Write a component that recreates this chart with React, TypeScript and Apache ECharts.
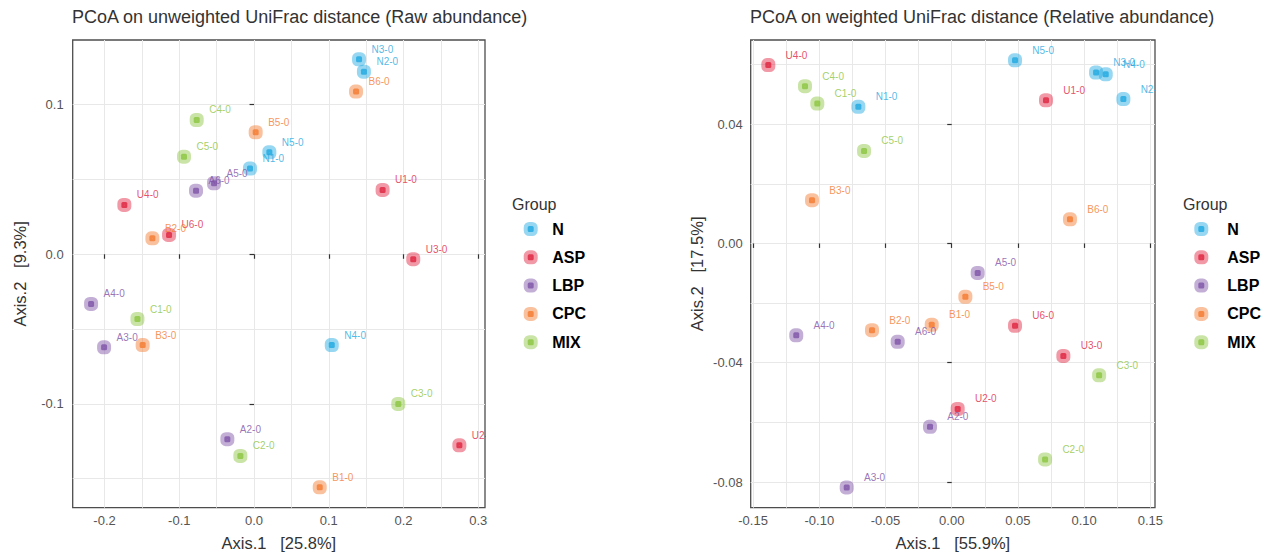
import React, { useEffect, useRef } from 'react';
import * as echarts from 'echarts';

const FONT = '"Liberation Sans", Arial, sans-serif';

const GROUPS = ['N', 'ASP', 'LBP', 'CPC', 'MIX'];
const GROUP_COLORS = ['#1FA8E0', '#E0233F', '#7E52A6', '#F47A2E', '#8BC53F'];
const GROUP_HALOS = [
  'rgba(31,168,224,0.58)',
  'rgba(224,35,63,0.58)',
  'rgba(126,82,166,0.58)',
  'rgba(244,122,46,0.58)',
  'rgba(139,197,63,0.58)',
];

// Left chart: unweighted UniFrac (Raw abundance) — [sample, Axis.1, Axis.2]
const unweightedN = [
  ['N1-0', -0.0054, 0.0573],
  ['N2-0', 0.147, 0.1221],
  ['N3-0', 0.1405, 0.1304],
  ['N4-0', 0.104, -0.0607],
  ['N5-0', 0.0205, 0.0682],
];
const unweightedASP = [
  ['U1-0', 0.172, 0.043],
  ['U2-0', 0.2747, -0.1278],
  ['U3-0', 0.213, -0.0033],
  ['U4-0', -0.1735, 0.033],
  ['U6-0', -0.1137, 0.0129],
];
const unweightedLBP = [
  ['A2-0', -0.0357, -0.1237],
  ['A3-0', -0.2006, -0.0622],
  ['A4-0', -0.218, -0.0332],
  ['A5-0', -0.0535, 0.0475],
  ['A6-0', -0.0776, 0.0425],
];
const unweightedCPC = [
  ['B1-0', 0.0879, -0.1559],
  ['B2-0', -0.136, 0.0107],
  ['B3-0', -0.149, -0.0607],
  ['B5-0', 0.0022, 0.0816],
  ['B6-0', 0.1365, 0.1088],
];
const unweightedMIX = [
  ['C1-0', -0.156, -0.0433],
  ['C2-0', -0.0183, -0.1349],
  ['C3-0', 0.193, -0.1001],
  ['C4-0', -0.0767, 0.0898],
  ['C5-0', -0.0937, 0.0653],
];

// Right chart: weighted UniFrac (Relative abundance)
const weightedN = [
  ['N1-0', -0.0705, 0.0458],
  ['N2-0', 0.1296, 0.0484],
  ['N3-0', 0.109, 0.0573],
  ['N4-0', 0.1163, 0.0567],
  ['N5-0', 0.0478, 0.0614],
];
const weightedASP = [
  ['U1-0', 0.0712, 0.048],
  ['U2-0', 0.0045, -0.0555],
  ['U3-0', 0.0843, -0.0377],
  ['U4-0', -0.1385, 0.0598],
  ['U6-0', 0.0478, -0.0276],
];
const weightedLBP = [
  ['A2-0', -0.0164, -0.0615],
  ['A3-0', -0.0793, -0.0818],
  ['A4-0', -0.1174, -0.0308],
  ['A5-0', 0.0196, -0.0099],
  ['A6-0', -0.0408, -0.033],
];
const weightedCPC = [
  ['B1-0', -0.0151, -0.0273],
  ['B2-0', -0.0602, -0.0291],
  ['B3-0', -0.1055, 0.0145],
  ['B5-0', 0.0103, -0.0179],
  ['B6-0', 0.0893, 0.0081],
];
const weightedMIX = [
  ['C1-0', -0.1015, 0.0469],
  ['C2-0', 0.0705, -0.0724],
  ['C3-0', 0.1113, -0.0442],
  ['C4-0', -0.1108, 0.0527],
  ['C5-0', -0.0662, 0.031],
];

// Tick labels and grid lines
const LEFT_X_TICKS = [-0.2, -0.1, 0, 0.1, 0.2, 0.3];
const LEFT_Y_TICKS = [-0.1, 0, 0.1];
const LEFT_X_GRID = [-0.2, -0.15, -0.1, -0.05, 0, 0.05, 0.1, 0.15, 0.2, 0.25, 0.3];
const LEFT_Y_GRID = [-0.15, -0.1, -0.05, 0, 0.05, 0.1];
const RIGHT_X_TICKS = [-0.15, -0.1, -0.05, 0, 0.05, 0.1, 0.15];
const RIGHT_Y_TICKS = [-0.08, -0.04, 0, 0.04];
const RIGHT_X_GRID = [-0.15, -0.125, -0.1, -0.075, -0.05, -0.025, 0, 0.025, 0.05, 0.075, 0.1, 0.125, 0.15];
const RIGHT_Y_GRID = [-0.08, -0.06, -0.04, -0.02, 0, 0.02, 0.04, 0.06];

const LEFT_RANGE_X = [-0.2426, 0.309];
const LEFT_RANGE_Y = [-0.1695, 0.1433];
const RIGHT_RANGE_X = [-0.1518, 0.1535];
const RIGHT_RANGE_Y = [-0.0886, 0.0682];

const TITLES = [
  'PCoA on unweighted UniFrac distance (Raw abundance)',
  'PCoA on weighted UniFrac distance (Relative abundance)',
];
const X_NAMES = ['Axis.1   [25.8%]', 'Axis.1   [55.9%]'];
const Y_NAMES = ['Axis.2   [9.3%]', 'Axis.2   [17.5%]'];

const LEFT_DATA = [unweightedN, unweightedASP, unweightedLBP, unweightedCPC, unweightedMIX];
const RIGHT_DATA = [weightedN, weightedASP, weightedLBP, weightedCPC, weightedMIX];

const fmt = (d: number) => (v: number) => {
  const r = Math.abs(v) < 1e-9 ? 0 : v;
  return r.toFixed(d);
};

function gridAxis(gridIndex: number, range: number[], gridVals: number[]) {
  return {
    type: 'value',
    gridIndex,
    min: range[0],
    max: range[1],
    axisLine: { show: false },
    axisTick: { show: false, customValues: gridVals },
    axisLabel: { show: false },
    splitLine: { show: true, lineStyle: { color: '#E8E8E8', width: 1 } },
  };
}

function labelAxis(
  gridIndex: number,
  range: number[],
  ticks: number[],
  decimals: number,
  name: string,
  nameGap: number,
  margin: number,
  isY: boolean
) {
  return {
    type: 'value',
    gridIndex,
    min: range[0],
    max: range[1],
    position: isY ? 'left' : 'bottom',
    name,
    nameLocation: 'middle',
    nameGap,
    nameTextStyle: { fontSize: 16.5, color: '#333333', fontFamily: FONT },
    axisLine: { show: false },
    axisTick: {
      show: true,
      customValues: ticks,
      length: 4.5,
      lineStyle: { color: '#333333', width: 1.2 },
    },
    axisLabel: {
      show: true,
      customValues: ticks,
      formatter: fmt(decimals),
      fontSize: 13,
      color: '#555555',
      fontFamily: FONT,
      margin,
    },
    splitLine: { show: false },
  };
}

function buildSeries(chartIdx: number, data: any[][], labelDist: number) {
  return data.map((arr, g) => ({
    type: 'scatter',
    name: GROUPS[g],
    xAxisIndex: chartIdx * 2,
    yAxisIndex: chartIdx * 2,
    symbol: 'roundRect',
    symbolSize: 6,
    itemStyle: {
      color: GROUP_COLORS[g],
      borderColor: GROUP_HALOS[g],
      borderWidth: 8,
    },
    label: {
      show: true,
      formatter: '{b}',
      position: 'right',
      distance: labelDist,
      offset: [0, -10],
      color: GROUP_COLORS[g],
      fontSize: 10,
      fontFamily: FONT,
    },
    emphasis: { disabled: true },
    data: arr.map((d) => ({ name: d[0], value: [d[1], d[2]] })),
  }));
}

function legendConf(left: number, textPad: number) {
  return {
    orient: 'vertical',
    left,
    top: 220,
    padding: 0,
    itemWidth: 6,
    itemHeight: 6,
    itemGap: 10.3,
    selectedMode: false,
    data: GROUPS.map((name, g) => ({
      name,
      itemStyle: { color: GROUP_COLORS[g], borderColor: GROUP_HALOS[g], borderWidth: 8 },
    })),
    textStyle: {
      fontSize: 16,
      fontWeight: 'bold',
      color: '#000000',
      fontFamily: FONT,
      lineHeight: 18,
      padding: [0, 0, 0, textPad],
    },
  };
}

export default function App() {
  const ref = useRef<HTMLDivElement>(null);

  useEffect(() => {
    if (!ref.current) return;
    const chart = echarts.init(ref.current, undefined, { renderer: 'svg' });
    const option: any = {
      animation: false,
      backgroundColor: '#ffffff',
      title: [
        {
          text: TITLES[0],
          left: 72,
          top: 8,
          padding: 0,
          textStyle: { fontSize: 18, fontWeight: 'normal', color: '#333333', fontFamily: FONT },
        },
        {
          text: TITLES[1],
          left: 750,
          top: 8,
          padding: 0,
          textStyle: { fontSize: 18, fontWeight: 'normal', color: '#333333', fontFamily: FONT },
        },
        {
          text: 'Group',
          left: 512,
          top: 196,
          padding: 0,
          textStyle: { fontSize: 16, fontWeight: 'normal', color: '#333333', fontFamily: FONT },
        },
        {
          text: 'Group',
          left: 1183,
          top: 196,
          padding: 0,
          textStyle: { fontSize: 16, fontWeight: 'normal', color: '#333333', fontFamily: FONT },
        },
      ],
      grid: [
        {
          left: 72.7,
          top: 40,
          width: 412.3,
          height: 467.7,
          show: true,
          borderColor: '#4D4D4D',
          borderWidth: 1.3,
          backgroundColor: 'transparent',
          containLabel: false,
        },
        {
          left: 750.7,
          top: 40,
          width: 404.3,
          height: 467.7,
          show: true,
          borderColor: '#4D4D4D',
          borderWidth: 1.3,
          backgroundColor: 'transparent',
          containLabel: false,
        },
      ],
      xAxis: [
        gridAxis(0, LEFT_RANGE_X, LEFT_X_GRID),
        labelAxis(0, LEFT_RANGE_X, LEFT_X_TICKS, 1, X_NAMES[0], 27, 6, false),
        gridAxis(1, RIGHT_RANGE_X, RIGHT_X_GRID),
        labelAxis(1, RIGHT_RANGE_X, RIGHT_X_TICKS, 2, X_NAMES[1], 27, 6, false),
      ],
      yAxis: [
        gridAxis(0, LEFT_RANGE_Y, LEFT_Y_GRID),
        labelAxis(0, LEFT_RANGE_Y, LEFT_Y_TICKS, 1, Y_NAMES[0], 44.7, 9, true),
        gridAxis(1, RIGHT_RANGE_Y, RIGHT_Y_GRID),
        labelAxis(1, RIGHT_RANGE_Y, RIGHT_Y_TICKS, 2, Y_NAMES[1], 45.7, 8, true),
      ],
      legend: [legendConf(523.7, 13.6), legendConf(1194.3, 18)],
      series: [...buildSeries(0, LEFT_DATA, 5.5), ...buildSeries(1, RIGHT_DATA, 10.3)],
      graphic: [
        { type: 'rect', shape: { x: 486, y: 34, width: 24, height: 470 }, style: { fill: '#ffffff' }, z: 100 },
        { type: 'rect', shape: { x: 1156, y: 34, width: 22, height: 470 }, style: { fill: '#ffffff' }, z: 100 },
      ],
    };
    chart.setOption(option);
    return () => chart.dispose();
  }, []);

  return (
    <div
      ref={ref}
      style={{ position: 'absolute', left: 0, top: 0, width: 1284, height: 557 }}
    />
  );
}
